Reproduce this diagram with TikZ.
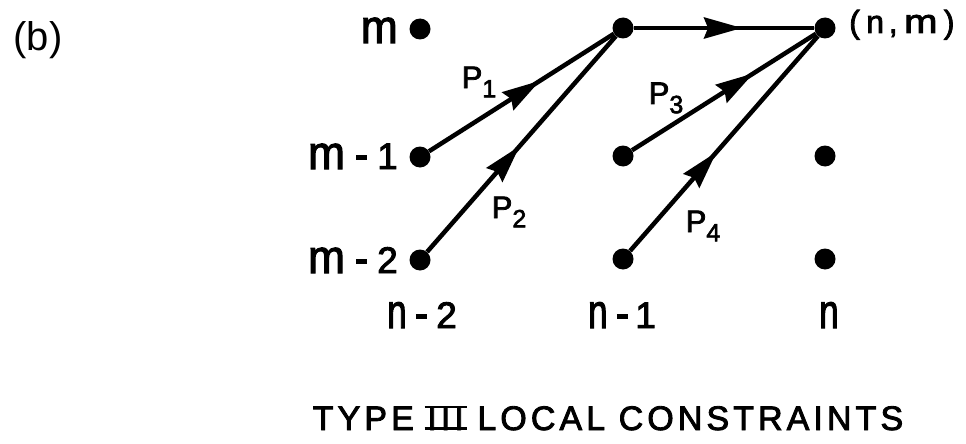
\documentclass[tikz,border=0pt]{standalone}
\usepackage{fontspec}
\setmainfont{Liberation Sans}[FakeBold=2.5]
\newfontfamily\plainfont{Liberation Sans}
\usetikzlibrary{arrows.meta,decorations.markings}
\newsavebox{\threebox}
\newcommand{\barIII}{\sbox{\threebox}{I\kern0.12em I\kern0.12em I}\makebox[\wd\threebox]{\rlap{\kern-0.08em\rule[0em]{\dimexpr\wd\threebox+0.16em\relax}{0.08em}}\rlap{\kern-0.08em\rule[0.64em]{\dimexpr\wd\threebox+0.16em\relax}{0.08em}}\usebox{\threebox}}}
\newcommand{\rowm}{\scalebox{1.2}[1.27]{m}}
\newcommand{\coln}{\scalebox{0.95}[1.3]{n}}
\newcommand{\hy}{\rule[0.24em]{0.3em}{0.13em}}
\newcommand{\psub}[1]{P\raisebox{-0.3em}{\fontsize{25}{25}\selectfont #1}}
\tikzset{
  dot/.style={circle,fill=black,inner sep=0pt,minimum size=21pt},
  conn/.style={line width=4.5pt},
  midarrow/.style={postaction={decorate},decoration={markings,mark=at position #1 with {\arrow{Stealth[length=38pt,width=21pt,inset=4pt]}}}},
  lab/.style={font=\fontsize{37}{40}\selectfont,inner sep=0pt},
  plab/.style={font=\fontsize{31}{33}\selectfont,inner sep=0pt},
}
\begin{document}
\begin{tikzpicture}[x=1pt,y=-1pt]
\useasboundingbox (0,0) rectangle (966,444);
% dots
\node[dot] (a1) at (420,29) {};
\node[dot] (a2) at (420,157) {};
\node[dot] (a3) at (420,260) {};
\node[dot] (b1) at (623,28) {};
\node[dot] (b2) at (623,156) {};
\node[dot] (b3) at (623,259) {};
\node[dot] (c1) at (825,28) {};
\node[dot] (c2) at (825,156) {};
\node[dot] (c3) at (825,259) {};
% connectors
\draw[conn,midarrow=0.6] (a2) -- (b1);
\draw[conn,midarrow=0.49] (a3) -- (b1);
\draw[conn,midarrow=0.6] (b1) -- (c1);
\draw[conn,midarrow=0.66] (b2) -- (c1);
\draw[conn,midarrow=0.46] (b3) -- (c1);
% path labels
\node[plab] (p1) at (479,82) {\psub{1}};
\node[plab] (p2) at (509,212) {\psub{2}};
\node[plab] (p3) at (666,98) {\psub{3}};
\node[plab] (p4) at (703,226) {\psub{4}};
% row labels
\node[lab,anchor=base east] (rm) at (398,43) {\rowm};
\node[lab,anchor=base east] (rm1) at (398,169) {\rowm\kern0.3em\hy\kern0.27em1};
\node[lab,anchor=base east] (rm2) at (398,273) {\rowm\kern0.3em\hy\kern0.27em2};
% column labels
\node[lab,anchor=base] (cn2) at (422,328) {\coln\kern0.25em\hy\kern0.25em2};
\node[lab,anchor=base] (cn1) at (622,328) {\coln\kern0.25em\hy\kern0.2em1};
\node[lab,anchor=base] (cn) at (829,328) {\coln};
\node[lab,font=\fontsize{32}{34}\selectfont,anchor=base west] (nm) at (849,33) {(\kern0.2em n\kern0.15em,\kern0.2em\scalebox{1.25}[1.05]{m}\kern0.2em)};
% panel label and title
\node[font=\fontsize{40}{44}\selectfont\plainfont,inner sep=0pt] (b) at (38,40) {(b)};
\node[font=\fontsize{34}{36}\selectfont\addfontfeature{LetterSpace=12},inner sep=0pt,anchor=base] (title) at (608,430) {TYPE \barIII{} LOCAL CONSTRAINTS};
\end{tikzpicture}
\end{document}
